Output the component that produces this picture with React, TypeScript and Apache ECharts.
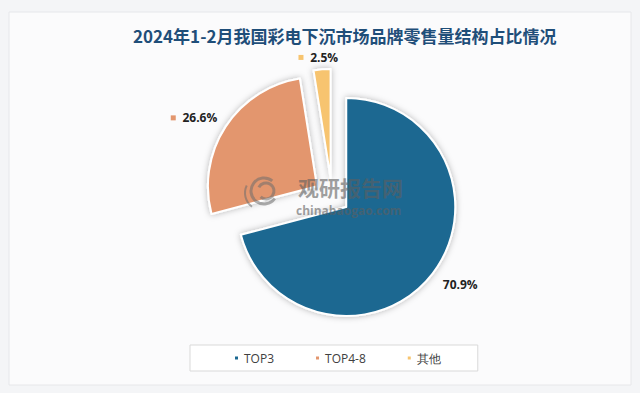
import React, { useEffect, useRef } from 'react';
import * as echarts from 'echarts';

const titleText = '2024年1-2月我国彩电下沉市场品牌零售量结构占比情况';
const categories = ['TOP3', 'TOP4-8', '其他'];
const shares = [70.9, 26.6, 2.5];
const colors = ['#1b6891', '#e3966e', '#f7c46f'];

export default function App() {
  const ref = useRef<HTMLDivElement>(null);
  useEffect(() => {
    const chart = echarts.init(ref.current!, null, { renderer: 'svg' });
    const tweaks = [
      { length: 18, length2: 0, dist: -4, marker: false },
      { length: 16, length2: 0, dist: -5, marker: true },
      { length: 12, length2: 0, dist: -17, marker: true },
    ];
    const data = categories.map((name, i) => ({
      name,
      value: shares[i],
      selected: true,
      itemStyle: { color: colors[i] },
      label: {
        distanceToLabelLine: tweaks[i].dist,
        formatter: (tweaks[i].marker ? `{m${i}|}  ` : '') + `{v|${shares[i].toFixed(1)}%}`,
      },
      labelLine: { length: tweaks[i].length, length2: tweaks[i].length2 },
    }));
    const rich: any = {
      v: { fontSize: 12, fontWeight: 'bold', color: '#222', fontFamily: 'Open Sans' },
    };
    colors.forEach((c, i) => {
      rich['m' + i] = { width: 5, height: 5, backgroundColor: c };
    });
    const wm = 'rgba(95,95,95,0.6)';
    const wmArc = (cx: number, cy: number, r: number, s: number, e: number, w: number) => ({
      type: 'arc',
      z: 100,
      silent: true,
      shape: { cx, cy, r, startAngle: s, endAngle: e },
      style: { stroke: 'rgba(110,110,110,0.55)', lineWidth: w, fill: 'none' },
    });
    chart.setOption({
      animation: false,
      backgroundColor: '#f4f5f7',
      title: {
        text: titleText,
        left: 133,
        top: 27,
        padding: 0,
        textStyle: {
          fontSize: 17,
          fontWeight: 'bold',
          color: '#1f4e79',
          fontFamily: 'Noto Sans CJK SC',
        },
      },
      legend: {
        data: categories,
        left: 190,
        top: 345,
        orient: 'horizontal',
        icon: 'rect',
        itemWidth: 5,
        itemHeight: 5,
        itemGap: 40,
        padding: [7, 37, 7, 43],
        borderColor: '#d9d9d9',
        borderWidth: 1,
        backgroundColor: '#ffffff',
        selectedMode: false,
        textStyle: { fontSize: 12, color: '#404040', fontFamily: 'Open Sans' },
      },
      graphic: [
        {
          type: 'rect',
          z: -10,
          silent: true,
          shape: { x: 9, y: 12, width: 622, height: 373 },
          style: { fill: '#fbfbfc', stroke: '#e6e7ea', lineWidth: 1 },
        },
        wmArc(264, 191, 13, 0.6, 5.4, 3),
        wmArc(266, 191, 8, 3.6, 8.6, 3),
        wmArc(262, 193, 17, 2.2, 3.6, 2),
        {
          type: 'text',
          z: 100,
          silent: true,
          x: 298,
          y: 187,
          style: {
            text: '观研报告网',
            fontSize: 21,
            fontWeight: 'bold',
            fill: wm,
            fontFamily: 'Noto Sans CJK SC',
            verticalAlign: 'middle',
          },
        },
        {
          type: 'text',
          z: 100,
          silent: true,
          x: 296,
          y: 210,
          style: {
            text: 'chinabaogao.com',
            fontSize: 12,
            fontWeight: 'bold',
            fill: wm,
            fontFamily: 'Open Sans',
            verticalAlign: 'middle',
          },
        },
      ],
      series: [
        {
          type: 'pie',
          z: 2,
          center: [332, 196],
          radius: 109,
          startAngle: 90,
          clockwise: true,
          selectedMode: 'multiple',
          selectedOffset: 18,
          avoidLabelOverlap: false,
          legendHoverLink: false,
          itemStyle: {
            borderColor: '#ffffff',
            borderWidth: 2,
            shadowBlur: 6,
            shadowColor: 'rgba(0,0,0,0.28)',
          },
          label: {
            show: true,
            position: 'outside',
            rich,
          },
          labelLine: { show: false },
          emphasis: { disabled: true },
          data,
        },
      ],
    });
    return () => chart.dispose();
  }, []);
  return (
    <div
      ref={ref}
      style={{ position: 'absolute', left: 0, top: 0, width: 640, height: 393 }}
    />
  );
}
